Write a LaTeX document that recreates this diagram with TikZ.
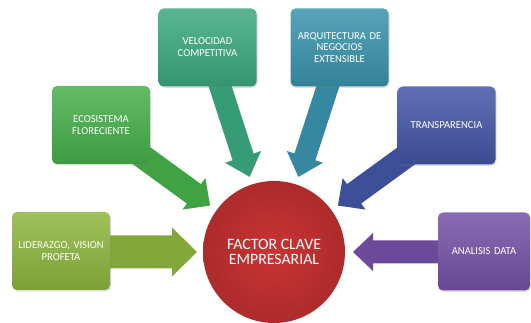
\documentclass[tikz,border=0pt]{standalone}
\usepackage{fontspec}
\setmainfont{Carlito}
\usetikzlibrary{calc,shadows}
\definecolor{cLid}{HTML}{8DB63E}
\definecolor{cEco}{HTML}{46B04A}
\definecolor{cVel}{HTML}{3BA97F}
\definecolor{cArq}{HTML}{3A94AD}
\definecolor{cTra}{HTML}{4456A6}
\definecolor{cAna}{HTML}{7651A6}
\definecolor{cCore}{HTML}{CB3333}
\tikzset{
  box/.style={rounded corners=5pt, minimum width=98pt, minimum height=78pt,
    text width=96pt, align=center, inner sep=0pt, text=white,
    font=\fontsize{10.6}{11.8}\selectfont,
    top color=#1!85!white, bottom color=#1!88!black,
    drop shadow={opacity=0.25, shadow xshift=1pt, shadow yshift=-1.5pt}},
  core/.style={circle, minimum size=142pt, inner sep=0pt, text=white,
    align=center, font=\fontsize{15.8}{15.8}\selectfont,
    inner color=cCore, outer color=cCore!85!black},
}
% angle, tail radius, shaft half width, head half width, head length, tip radius, colour
\newcommand\blockarrow[7]{%
  \begin{scope}[shift={(core.center)}, rotate=#1]
    \fill[#7!92!black] (#6,0) -- (#6+#5,#4) -- (#6+#5,#3) -- (#2,#3)
      -- (#2,-#3) -- (#6+#5,-#3) -- (#6+#5,-#4) -- cycle;
  \end{scope}}
\begin{document}
\begin{tikzpicture}[x=1pt,y=1pt]
\useasboundingbox (0,0) rectangle (531,323);
\node[core] (core) at (274,71) {FACTOR CLAVE\\EMPRESARIAL};
\blockarrow{180}{175}{16.5}{24.5}{25}{77}{cLid}
\blockarrow{144}{175}{12}{19.5}{20}{79}{cEco}
\blockarrow{108}{200}{11}{19}{21}{79}{cVel}
\blockarrow{72}{200}{11}{19}{21}{79}{cArq}
\blockarrow{36}{175}{12}{19.5}{20}{79}{cTra}
\blockarrow{0}{180}{11.5}{19}{20}{79}{cAna}
\node[box=cLid] (lid) at (61,72) {LIDERAZGO, VISION\\PROFETA};
\node[box=cEco] (eco) at (101,198) {ECOSISTEMA\\FLORECIENTE};
\node[box=cVel] (vel) at (207.5,275.5) {VELOCIDAD\\COMPETITIVA};
\node[box=cArq] (arq) at (339.5,275.5) {ARQUITECTURA DE\\NEGOCIOS\\EXTENSIBLE};
\node[box=cTra] (tra) at (446.5,197.5) {TRANSPARENCIA};
\node[box=cAna, minimum width=92pt, text width=90pt] (ana) at (484,71.5) {ANALISIS DATA};
\end{tikzpicture}
\end{document}
